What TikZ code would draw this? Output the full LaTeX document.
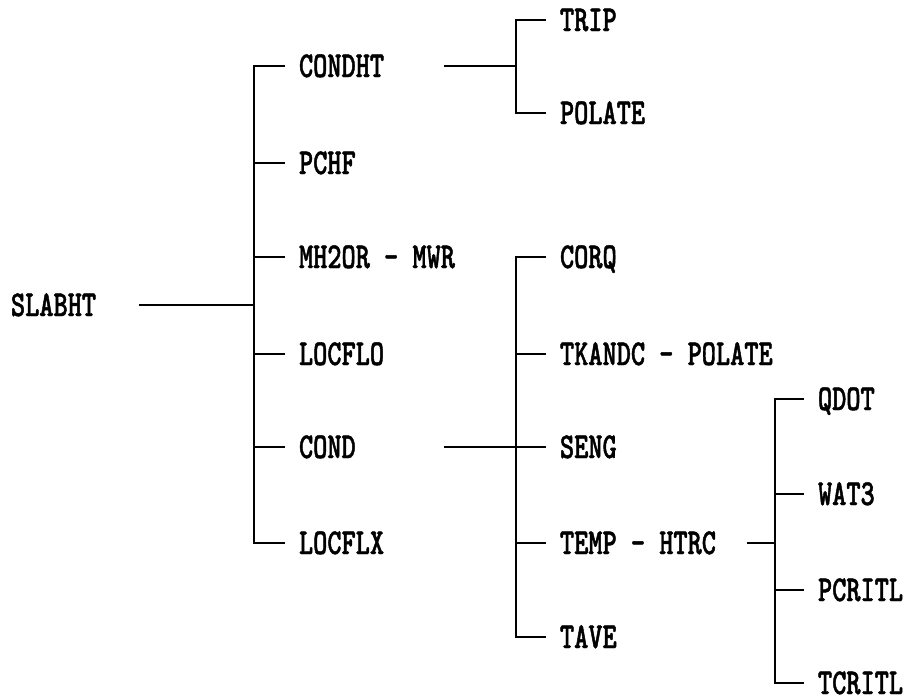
\documentclass[tikz,border=0pt]{standalone}
\usepackage{fontspec}
\newfontfamily\plotfont[FakeStretch=0.74, FakeBold=1.2]{lmmonolt10-bold.otf}

\begin{document}
\begin{tikzpicture}[x=1pt, y=-1pt, line width=2pt, line join=miter,
    lbl/.style={anchor=west, inner xsep=13pt, inner ysep=0pt,
        text height=22pt, text depth=0pt,
        font=\plotfont\fontsize{36.5}{38}\selectfont}]

\useasboundingbox (0,0) rectangle (907,699);

% Bus columns and feed points
\coordinate (busA) at (254,0);
\coordinate (busB) at (516,0);
\coordinate (busC) at (775,0);
\coordinate (feedA) at (139,0);
\coordinate (feedB) at (444,0);
\coordinate (feedC) at (747,0);

% Root
\node[lbl, inner xsep=0pt] (slabht) at (10,305) {SLABHT};

% First level
\node[lbl] (condht) at (285,66)  {CONDHT};
\node[lbl] (pchf)   at (285,163) {PCHF};
\node[lbl] (mh2or)  at (285,257) {MH2OR - MWR};
\node[lbl] (locflo) at (285,354) {LOCFLO};
\node[lbl] (cond)   at (285,447) {COND};
\node[lbl] (locflx) at (285,543) {LOCFLX};

% Second level
\node[lbl] (trip)   at (546,20)  {TRIP};
\node[lbl] (polate) at (546,113) {POLATE};
\node[lbl] (corq)   at (546,257) {CORQ};
\node[lbl] (tkandc) at (546,354) {TKANDC - POLATE};
\node[lbl] (seng)   at (546,447) {SENG};
\node[lbl] (temp)   at (546,543) {TEMP - HTRC};
\node[lbl] (tave)   at (546,637) {TAVE};

% Third level
\node[lbl] (qdot)   at (804,399) {QDOT};
\node[lbl] (wat3)   at (804,494) {WAT3};
\node[lbl] (pcritl) at (804,590) {PCRITL};
\node[lbl] (tcritl) at (804,683) {TCRITL};

% SLABHT tree
\draw (feedA |- slabht) -- (busA |- slabht);
\draw (condht.west) -- (condht.west -| busA) -- (locflx.west -| busA) -- (locflx.west);
\foreach \n in {pchf,mh2or,locflo,cond} {
    \draw (\n.west) -- (\n.west -| busA);
}

% CONDHT tree
\draw (feedB |- condht) -- (busB |- condht);
\draw (trip.west) -- (trip.west -| busB) -- (polate.west -| busB) -- (polate.west);

% COND tree
\draw (feedB |- cond) -- (seng.west);
\draw (corq.west) -- (corq.west -| busB) -- (tave.west -| busB) -- (tave.west);
\foreach \n in {tkandc,temp} {
    \draw (\n.west) -- (\n.west -| busB);
}

% HTRC tree
\draw (feedC |- temp) -- (busC |- temp);
\draw (qdot.west) -- (qdot.west -| busC) -- (tcritl.west -| busC) -- (tcritl.west);
\foreach \n in {wat3,pcritl} {
    \draw (\n.west) -- (\n.west -| busC);
}

\end{tikzpicture}
\end{document}
